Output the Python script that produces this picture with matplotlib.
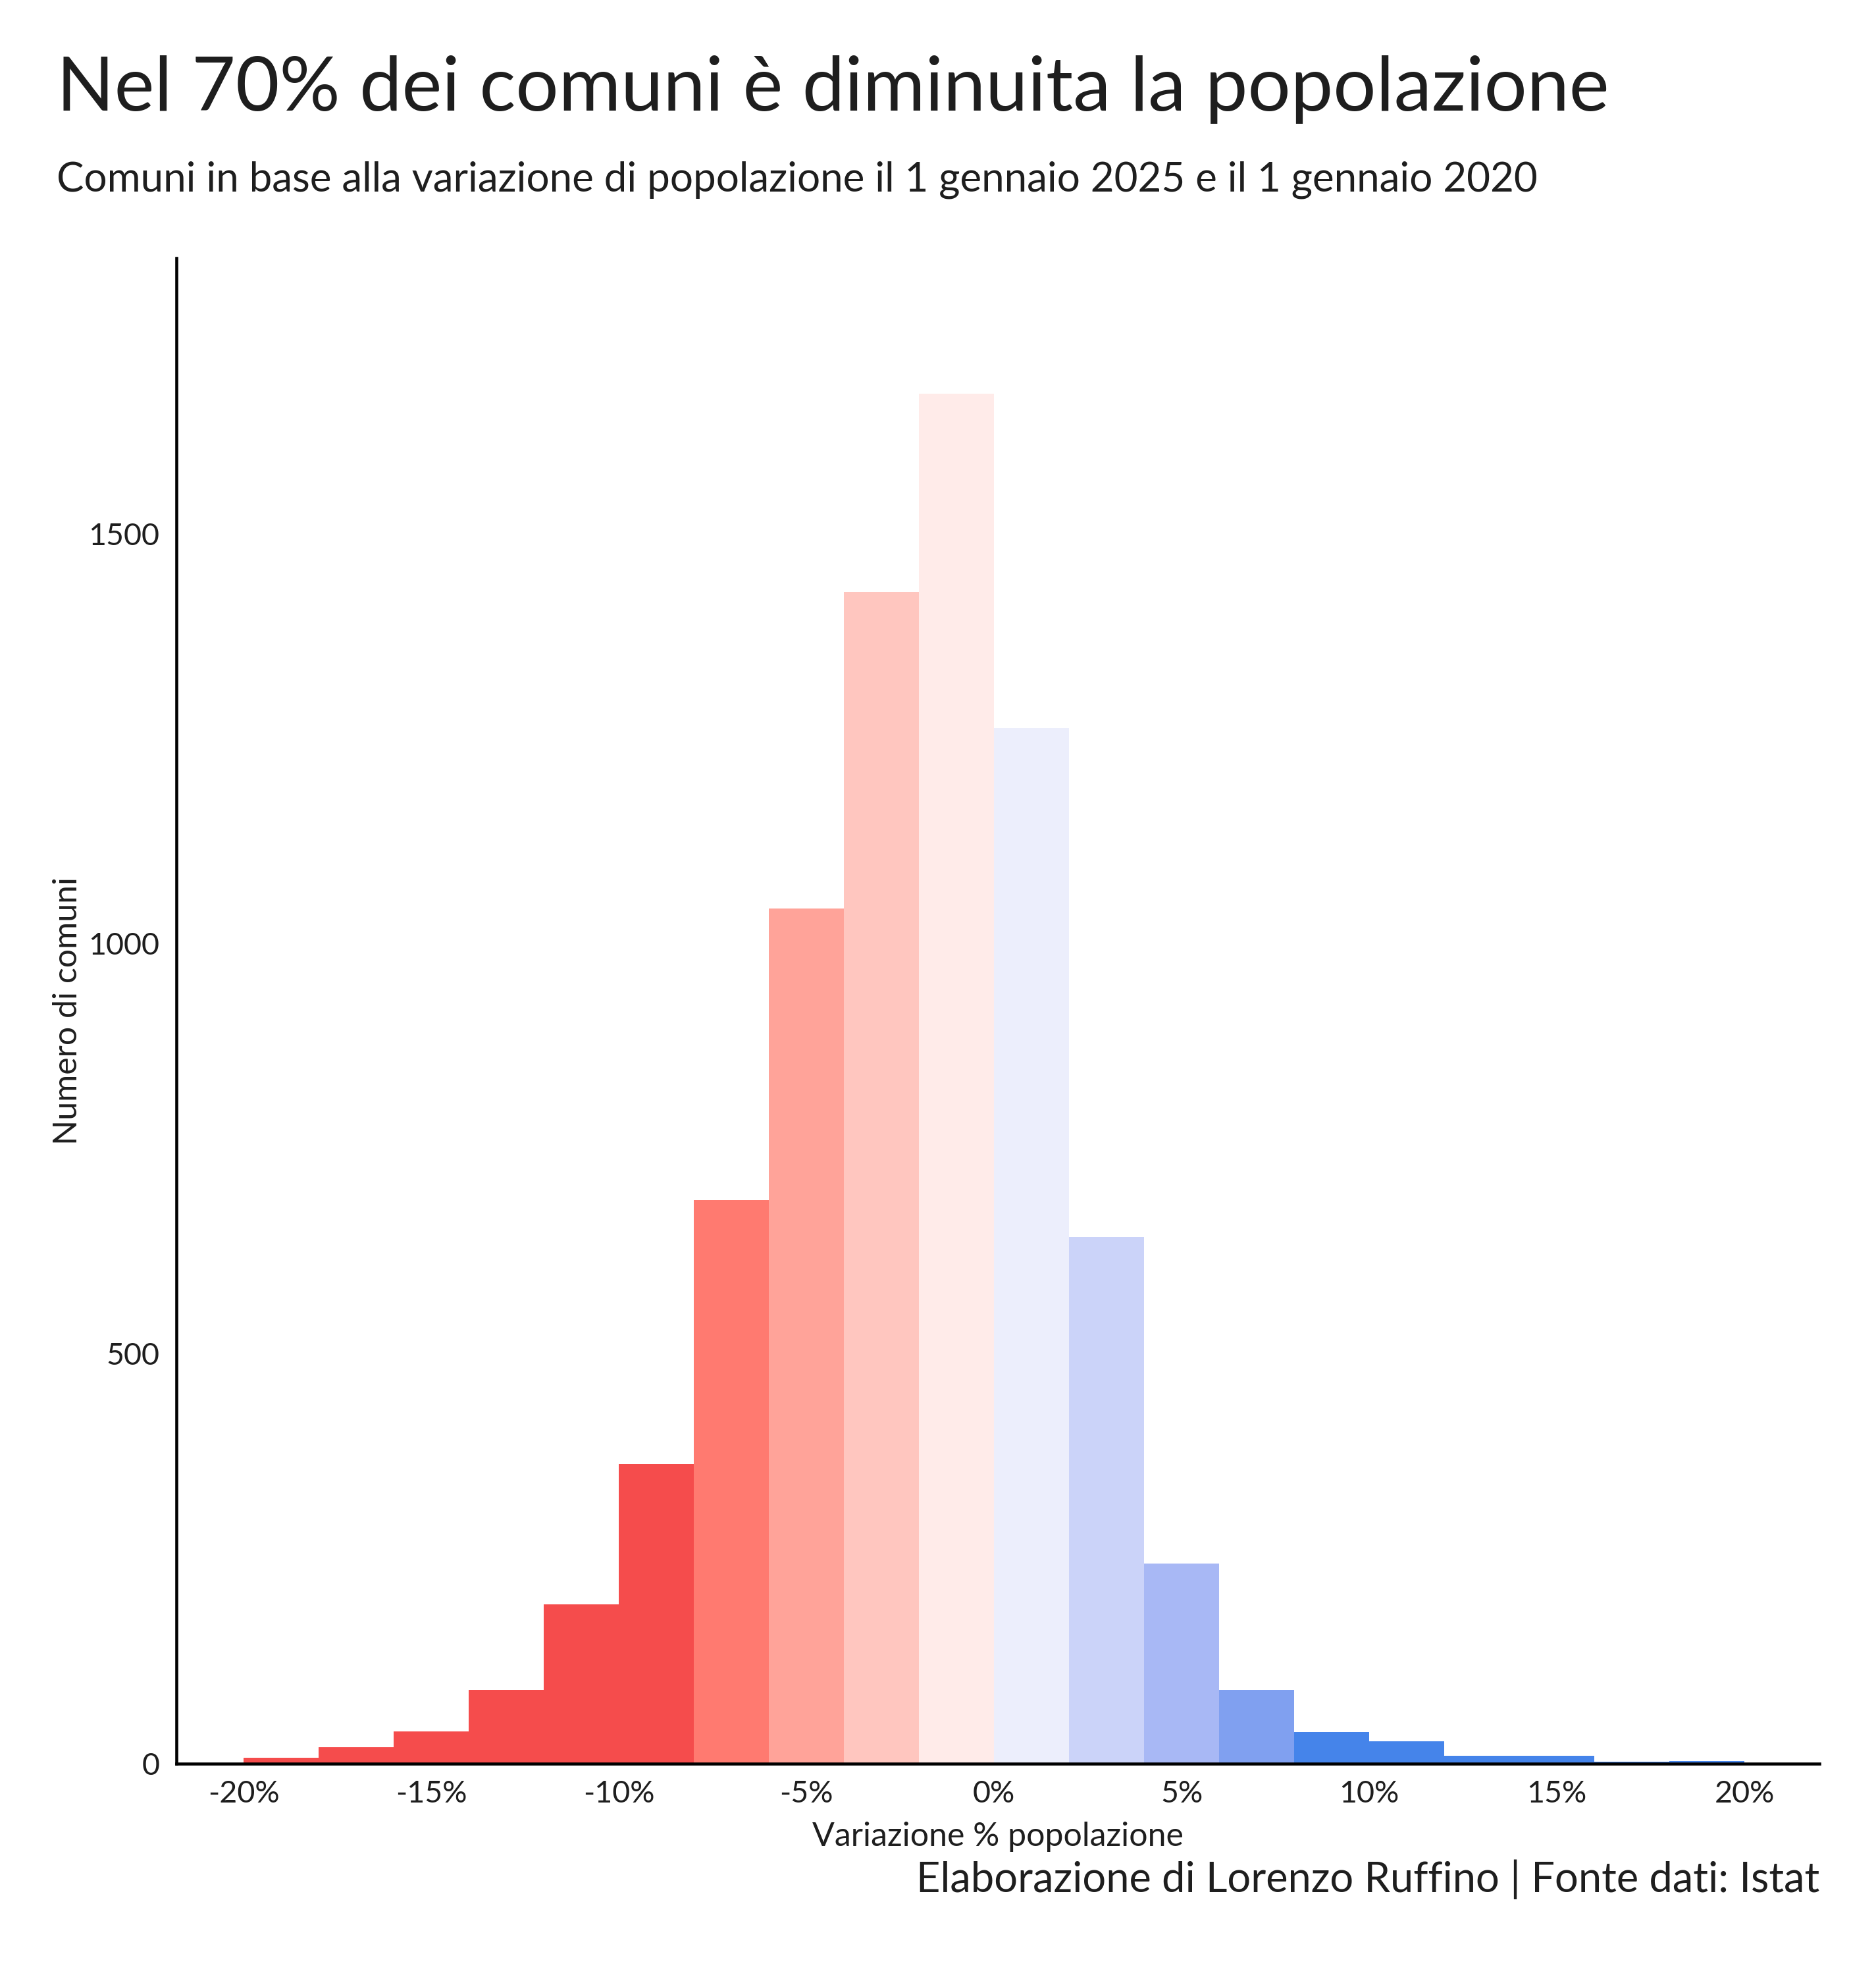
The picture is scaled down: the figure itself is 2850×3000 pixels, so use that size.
import matplotlib
matplotlib.use("Agg")
import matplotlib.pyplot as plt
from matplotlib.ticker import FuncFormatter

plt.rcParams["font.family"] = ["Lato", "DejaVu Sans"]

# istogramma: bin da 2 punti percentuali, da -20% a +20%
bin_starts = [-20, -18, -16, -14, -12, -10, -8, -6, -4, -2,
              0, 2, 4, 6, 8, 10, 12, 14, 16, 18]
counts = [7, 20, 39, 90, 194, 365, 687, 1043, 1429, 1671,
          1263, 642, 244, 90, 38, 27, 9, 9, 2, 3]
bar_colors = ["#f54c4c", "#f54c4c", "#f54c4c", "#f54c4c", "#f54c4c", "#f54c4c",
              "#ff7a70", "#ffa399", "#ffc6bf", "#ffebe9",
              "#eceefc", "#cbd3f9", "#a8b8f5", "#80a0f0",
              "#4584ea", "#4584ea", "#4584ea", "#4584ea", "#4584ea", "#4584ea"]
bin_width = 2
x_ticks = [-20, -15, -10, -5, 0, 5, 10, 15, 20]
y_ticks = [0, 500, 1000, 1500]

title = "Nel 70% dei comuni è diminuita la popolazione"
subtitle = "Comuni in base alla variazione di popolazione il 1 gennaio 2025 e il 1 gennaio 2020"
caption = "Elaborazione di Lorenzo Ruffino | Fonte dati: Istat"

text_color = "#1e1e1e"

fig = plt.figure(figsize=(9.5, 10), dpi=300)
ax = fig.add_axes([0.0939, 0.1071, 0.8759, 0.7622])

ax.bar(bin_starts, counts, width=bin_width, align="edge", color=bar_colors, linewidth=0)

ax.set_xlim(-21.8, 22.0)
ax.set_ylim(0, 1836)
ax.set_xticks(x_ticks)
ax.xaxis.set_major_formatter(FuncFormatter(lambda v, _: f"{v:.0f}%"))
ax.set_yticks(y_ticks)

for side in ("top", "right"):
    ax.spines[side].set_visible(False)
for side in ("left", "bottom"):
    ax.spines[side].set_linewidth(1.1)
    ax.spines[side].set_color("black")

ax.tick_params(axis="both", length=0, labelsize=11.2, colors=text_color, pad=6)
ax.set_xlabel("Variazione % popolazione", fontsize=12, color=text_color, labelpad=5)
ax.set_ylabel("Numero di comuni", fontsize=12, color=text_color, labelpad=2)

fig.text(0.0302, 0.9439, title, fontsize=27.6, color=text_color, ha="left", va="baseline")
fig.text(0.0302, 0.903, subtitle, fontsize=14.9, color=text_color, ha="left", va="baseline")
fig.text(0.9698, 0.042, caption, fontsize=15.2, color=text_color, ha="right", va="baseline")

fig.savefig("out.png", dpi=300, facecolor="white")
plt.close(fig)
